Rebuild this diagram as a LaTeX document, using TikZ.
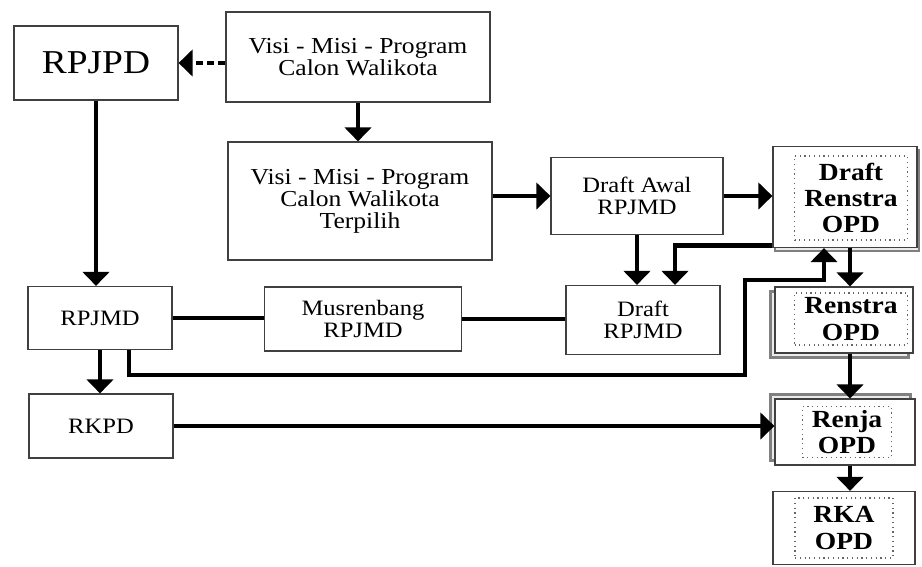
\documentclass[tikz,border=0pt]{standalone}
\usepackage{fontspec}
\setmainfont[FakeStretch=1.12]{Liberation Serif}
\usetikzlibrary{arrows.meta,shadows}

\tikzset{
	box/.style={shape=rectangle,draw=black!75,line width=0.7pt,fill=white,align=center,inner sep=0pt,font=\fontsize{12.5}{12.5}\selectfont},
	inbox/.style={shape=rectangle,draw=black!60,dotted,line width=0.7pt,align=center,inner sep=0pt,font=\fontsize{14}{15}\selectfont\bfseries},
	shade/.style 2 args={copy shadow={shadow xshift=#1,shadow yshift=#2,draw=black!50,line width=1.3pt,fill=black!8}},
	arr/.style={line width=2.3pt,-{Triangle[width=15pt,length=8pt]}},
	link/.style={line width=2.3pt},
}

\begin{document}
\begin{tikzpicture}[x=0.02cm,y=-0.02cm]
	\useasboundingbox (0,0) rectangle (922,566);

	\node[box,minimum width=3.28cm,minimum height=1.48cm,font=\fontsize{19}{20}\selectfont] (rpjpd) at (96,63) {RPJPD};
	\node[box,minimum width=5.28cm,minimum height=1.8cm,font=\fontsize{13}{12.5}\selectfont] (visi) at (358,57) {Visi - Misi - Program\\Calon Walikota};
	\node[box,minimum width=5.28cm,minimum height=2.36cm,font=\fontsize{13}{12.5}\selectfont] (terpilih) at (360,201) {Visi - Misi - Program\\Calon Walikota\\Terpilih};
	\node[box,minimum width=3.44cm,minimum height=1.54cm] (awal) at (637,196) {Draft Awal\\RPJMD};
	\node[box,minimum width=2.88cm,minimum height=1.26cm] (rpjmd) at (100,318) {RPJMD};
	\node[box,minimum width=3.94cm,minimum height=1.28cm] (musren) at (363,319) {Musrenbang\\RPJMD};
	\node[box,minimum width=3.08cm,minimum height=1.38cm] (draft) at (643,320) {Draft\\RPJMD};
	\node[box,minimum width=2.88cm,minimum height=1.28cm] (rkpd) at (101,426) {RKPD};

	\node[box,shade={1.2pt}{-2pt},minimum width=2.88cm,minimum height=2.02cm] (drenstra) at (845,197) {};
	\node[inbox,minimum width=2.26cm,minimum height=1.68cm] (drenstra-in) at (851,198) {Draft\\Renstra\\OPD};
	\node[box,shade={-2.5pt}{-2.5pt},minimum width=2.76cm,minimum height=1.32cm] (renstra) at (844,320) {};
	\node[inbox,minimum width=2.26cm,minimum height=1.04cm] (renstra-in) at (851,319) {Renstra\\OPD};
	\node[box,shade={-2.5pt}{2.5pt},minimum width=2.8cm,minimum height=1.32cm] (renja) at (845,432) {};
	\node[inbox,minimum width=1.78cm,minimum height=1.02cm] (renja-in) at (847,432) {Renja\\OPD};
	\node[box,minimum width=2.84cm,minimum height=1.46cm] (rka) at (844,528) {};
	\node[inbox,minimum width=1.96cm,minimum height=1.2cm] (rka-in) at (844,528) {RKA\\OPD};

	\draw[arr,dash pattern=on 4pt off 2.5pt] (rpjpd -| visi.west) -- (rpjpd.east);
	\draw[arr] (visi.south) -- (visi.south |- terpilih.north);
	\draw[arr] (rpjpd.south) -- (rpjpd.south |- rpjmd.north);
	\draw[arr] (terpilih.east |- awal) -- (awal.west);
	\draw[arr] (awal.east) -- (awal.east -| drenstra.west);
	\draw[arr] (awal.south) -- (awal.south |- draft.north);
	\draw[arr] ([yshift=1.5pt]drenstra.south west) -| ([xshift=0.64cm]draft.north);
	\draw[link] (rpjmd.east) -- (rpjmd.east -| musren.west);
	\draw[link] (musren.east) -- (musren.east -| draft.west);
	\draw[arr] ([xshift=0.58cm]rpjmd.south) |- (745,375) -- (745,280) -| ([xshift=-0.42cm]drenstra.south);
	\draw[arr] (rpjmd.south) -- (rpjmd.south |- rkpd.north);
	\draw[arr] (rkpd.east) -- (rkpd.east -| renja.west);
	\draw[arr] ([xshift=0.1cm]drenstra.south) -- ([xshift=0.1cm]drenstra.south |- renstra.north);
	\draw[arr] ([xshift=0.12cm]renstra.south) -- ([xshift=0.12cm]renstra.south |- renja.north);
	\draw[arr] ([xshift=0.1cm]renja.south) -- ([xshift=0.1cm]renja.south |- rka.north);

\end{tikzpicture}
\end{document}
